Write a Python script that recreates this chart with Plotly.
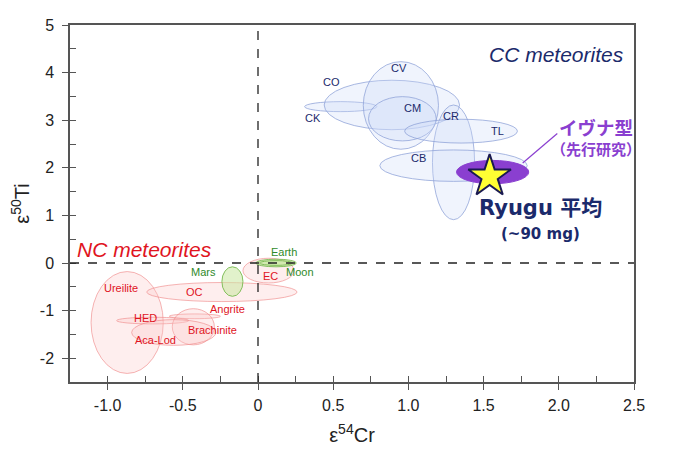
import plotly.graph_objects as go

# ---- data ----
nc_names = ["Ureilite", "OC", "EC", "HED", "Angrite", "Brachinite", "Aca-Lod"]
nc_x = [-0.87, -0.24, 0.07, -0.70, -0.42, -0.43, -0.56]
nc_y = [-1.25, -0.61, -0.16, -1.21, -1.12, -1.34, -1.46]
nc_ex = [0.24, 0.50, 0.17, 0.24, 0.17, 0.14, 0.28]
nc_ey = [1.07, 0.20, 0.26, 0.07, 0.05, 0.38, 0.27]
nc_lx = [-0.91, -0.42, 0.08, -0.75, -0.20, -0.30, -0.68]
nc_ly = [-0.52, -0.61, -0.28, -1.15, -0.97, -1.40, -1.61]

pl_names = ["Mars", "Earth", "Moon"]
pl_x = [-0.17, 0.12, 0.12]
pl_y = [-0.39, 0.00, 0.00]
pl_ex = [0.07, 0.135, 0.11]
pl_ey = [0.31, 0.08, 0.05]
pl_lx = [-0.36, 0.17, 0.28]
pl_ly = [-0.19, 0.23, -0.18]

cc_names = ["CK", "CO", "CV", "CM", "CR", "TL", "CB"]
cc_x = [0.55, 0.89, 0.95, 0.96, 1.30, 1.35, 1.30]
cc_y = [3.285, 3.32, 3.31, 3.03, 2.115, 2.77, 2.045]
cc_ex = [0.24, 0.45, 0.25, 0.225, 0.14, 0.375, 0.49]
cc_ey = [0.105, 0.52, 0.92, 0.465, 1.205, 0.25, 0.33]
cc_lx = [0.365, 0.49, 0.94, 1.03, 1.285, 1.59, 1.07]
cc_ly = [3.04, 3.80, 4.09, 3.25, 3.09, 2.78, 2.20]

ivuna_x, ivuna_y, ivuna_ex, ivuna_ey = 1.56, 1.91, 0.24, 0.245
ryugu_x, ryugu_y = [1.54], [1.82]

x_ticks = [-1.0, -0.5, 0, 0.5, 1.0, 1.5, 2.0, 2.5]
x_ticktext = ["-1.0", "-0.5", "0", "0.5", "1.0", "1.5", "2.0", "2.5"]
y_ticks = [-2, -1, 0, 1, 2, 3, 4, 5]
y_ticktext = ["-2", "-1", "0", "1", "2", "3", "4", "5"]

FONT = "Liberation Sans, Arial, sans-serif"
WIDE = "DejaVu Sans, Noto Sans CJK JP, sans-serif"
JP = "Noto Sans CJK JP, sans-serif"
RED = "#e0141e"
GREEN = "#2f8a2a"
NAVY = "#1b2a6b"
PURPLE = "#8a3fd0"

fig = go.Figure()
shapes = []
annotations = []


def ell(cx, cy, ex, ey, fill, line, lw=1):
    return dict(type="circle", xref="x", yref="y", x0=cx - ex, x1=cx + ex,
                y0=cy - ey, y1=cy + ey, fillcolor=fill,
                line=dict(color=line, width=lw), layer="below")


for i in range(len(nc_names)):
    shapes.append(ell(nc_x[i], nc_y[i], nc_ex[i], nc_ey[i],
                      "rgba(252,200,200,0.30)", "rgba(240,140,140,0.65)"))
for i in range(len(pl_names)):
    shapes.append(ell(pl_x[i], pl_y[i], pl_ex[i], pl_ey[i],
                      "rgba(200,232,160,0.55)", "rgba(120,185,80,0.9)"))
for i in range(len(cc_names)):
    shapes.append(ell(cc_x[i], cc_y[i], cc_ex[i], cc_ey[i],
                      "rgba(205,220,248,0.30)", "rgba(140,160,215,0.75)"))
shapes.append(ell(ivuna_x, ivuna_y, ivuna_ex, ivuna_ey, PURPLE, PURPLE))

# dashed zero lines
shapes.append(dict(type="line", xref="paper", yref="y", x0=0, x1=1, y0=0, y1=0,
                   line=dict(color="#222", width=1.3, dash="dash"), layer="above"))
shapes.append(dict(type="line", xref="x", yref="paper", x0=0, x1=0, y0=0, y1=1,
                   line=dict(color="#222", width=1.3, dash="dash"), layer="above"))
# leader line
shapes.append(dict(type="line", xref="x", yref="y", x0=1.76, y0=2.10, x1=1.99, y1=2.72,
                   line=dict(color=PURPLE, width=1.2), layer="above"))


def lab(x, y, t, color, size, **kw):
    d = dict(x=x, y=y, xref="x", yref="y", text=t, showarrow=False, borderpad=0,
             font=dict(family=kw.pop("family", FONT), size=size, color=color))
    d.update(kw)
    annotations.append(d)


for i, n in enumerate(nc_names):
    lab(nc_lx[i], nc_ly[i], n, RED, 11)
for i, n in enumerate(pl_names):
    lab(pl_lx[i], pl_ly[i], n, GREEN, 11)
for i, n in enumerate(cc_names):
    lab(cc_lx[i], cc_ly[i], n, NAVY, 11)

lab(-1.21, 0.28, "<i>NC meteorites</i>", RED, 21, xanchor="left")
lab(1.53, 4.38, "<i>CC meteorites</i>", NAVY, 21, xanchor="left")
lab(1.88, 1.15, "<b>Ryugu 平均</b>", NAVY, 21, family=WIDE)
lab(1.88, 0.60, "<b>(~90 mg)</b>", NAVY, 15, family=WIDE)
lab(2.245, 2.85, "<b>イヴナ型</b>", PURPLE, 18.5, family=JP)
lab(2.25, 2.41, "<b>（先行研究）</b>", PURPLE, 15, family=JP)

fig.add_trace(go.Scatter(x=ryugu_x, y=ryugu_y, mode="markers",
                         marker=dict(symbol="star", size=32, color="#ffff33",
                                     line=dict(color="#1a1a50", width=2)),
                         showlegend=False, hoverinfo="skip"))
# invisible trace for overlay axes (inside ticks)
fig.add_trace(go.Scatter(x=[None], y=[None], xaxis="x2", yaxis="y2",
                         showlegend=False, hoverinfo="skip"))

axcol = "#555555"
fig.update_layout(
    width=672, height=444,
    margin=dict(l=62, r=46, t=17, b=70),
    paper_bgcolor="white", plot_bgcolor="white",
    showlegend=False,
    shapes=shapes, annotations=annotations,
    xaxis=dict(range=[-1.25, 2.5], tickvals=x_ticks, ticktext=x_ticktext,
               ticks="outside", ticklen=6, tickcolor=axcol, showgrid=False,
               zeroline=False, showline=True, linecolor=axcol, linewidth=1.5,
               mirror=True, automargin=False, ticklabelstandoff=2,
               tickfont=dict(family=FONT, size=16, color="#222"),
               title=dict(text="ε<sup>54</sup>Cr", font=dict(family=FONT, size=20, color="#222"),
                          standoff=15)),
    yaxis=dict(range=[-2.5, 5], tickvals=y_ticks, ticktext=y_ticktext,
               ticks="outside", ticklen=6, tickcolor=axcol, showgrid=False,
               zeroline=False, showline=True, linecolor=axcol, linewidth=1.5,
               mirror=True, automargin=False, ticklabelstandoff=5,
               tickfont=dict(family=FONT, size=16, color="#222"),
               title=dict(text="ε<sup>50</sup>Ti", font=dict(family=FONT, size=20, color="#222"),
                          standoff=5)),
    xaxis2=dict(range=[-1.25, 2.5], overlaying="x", anchor="y2", side="bottom",
                dtick=0.25, tick0=0, ticks="inside", ticklen=6, tickcolor=axcol,
                showticklabels=False, showgrid=False, zeroline=False, showline=False),
    yaxis2=dict(range=[-2.5, 5], overlaying="y", anchor="x2", side="left",
                dtick=0.5, tick0=0, ticks="inside", ticklen=6, tickcolor=axcol,
                showticklabels=False, showgrid=False, zeroline=False, showline=False),
)

fig.write_html("out.html")
